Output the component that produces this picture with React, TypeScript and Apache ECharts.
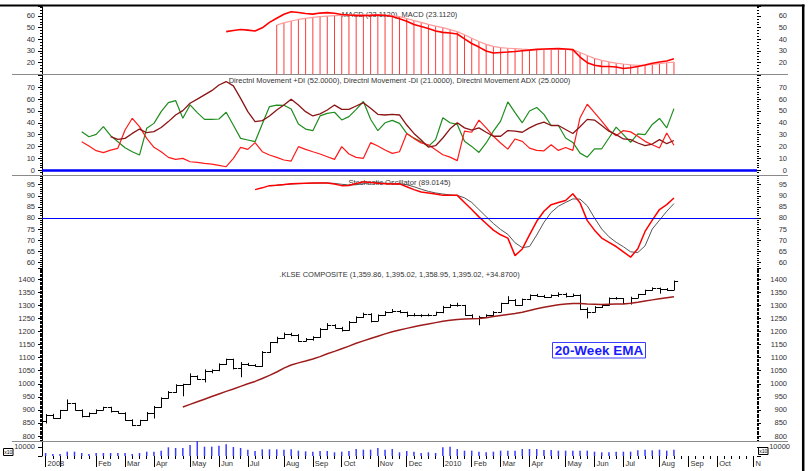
import React, { useEffect, useRef } from 'react';
import * as echarts from 'echarts';

// ---------- categories: weekly bars (Fridays) ----------
const WEEK_START_UTC = Date.UTC(2008, 11, 19);
const WEEK_COUNT = 99;
const categories: string[] = Array.from({ length: WEEK_COUNT }, (_, i) =>
  new Date(WEEK_START_UTC + i * 7 * 86400000).toISOString().slice(0, 10)
);

// month ticks (week index -> label)
const monthTickWeeks = [0, 2, 7, 11, 15, 20, 24, 28, 33, 37, 41, 46, 50, 55, 59, 63, 67, 72, 76, 80, 85, 89, 93, 98];
const monthTickLabels = ['2008', '', 'Feb', 'Mar', 'Apr', 'May', 'Jun', 'Jul', 'Aug', 'Sep', 'Oct', 'Nov', 'Dec', '2010', 'Feb', 'Mar', 'Apr', 'May', 'Jun', 'Jul', 'Aug', 'Sep', 'Oct', 'N'];

// ---------- price (weekly OHLC, weeks 0..87) ----------
const priceOpen = [
  856, 881, 868, 898, 925, 900, 875, 888, 900, 910,
  894, 890, 862, 843, 860, 890, 910, 945, 970, 996,
  998, 1030, 1020, 1047, 1051, 1076, 1094, 1060, 1077, 1073,
  1068, 1122, 1158, 1176, 1190, 1188, 1165, 1170, 1178, 1210,
  1225, 1215, 1205, 1237, 1256, 1268, 1242, 1263, 1276, 1280,
  1275, 1265, 1262, 1263, 1265, 1273, 1295, 1301, 1301, 1263,
  1252, 1256, 1263, 1276, 1308, 1321, 1301, 1324, 1340, 1337,
  1333, 1340, 1342, 1337, 1340, 1288, 1276, 1295, 1301, 1327,
  1327, 1308, 1330, 1342, 1359, 1365, 1363, 1359.86,
];
const priceHigh = [
  884, 885, 900, 940, 927, 902, 890, 902, 912, 912,
  896, 891, 864, 862, 892, 915, 948, 972, 998, 1000,
  1040, 1032, 1055, 1055, 1078, 1096, 1096, 1083, 1080, 1075,
  1125, 1160, 1180, 1196, 1195, 1190, 1175, 1182, 1213, 1232,
  1228, 1218, 1240, 1258, 1272, 1270, 1265, 1278, 1286, 1282,
  1276, 1270, 1266, 1268, 1276, 1298, 1305, 1310, 1302, 1266,
  1260, 1266, 1278, 1310, 1335, 1324, 1326, 1342, 1344, 1340,
  1342, 1350, 1348, 1345, 1342, 1292, 1297, 1303, 1330, 1332,
  1328, 1333, 1344, 1360, 1369, 1368, 1366, 1395.02,
];
const priceLow = [
  848, 866, 866, 896, 897, 871, 872, 885, 898, 890,
  886, 858, 838, 840, 858, 867, 908, 943, 965, 952,
  995, 1015, 1005, 1040, 1048, 1072, 1055, 1025, 1068, 1065,
  1065, 1118, 1155, 1172, 1182, 1160, 1162, 1165, 1176, 1206,
  1212, 1200, 1203, 1233, 1252, 1235, 1240, 1260, 1272, 1270,
  1255, 1258, 1255, 1258, 1262, 1270, 1290, 1295, 1260, 1248,
  1224, 1252, 1260, 1274, 1305, 1298, 1299, 1320, 1333, 1328,
  1330, 1332, 1330, 1333, 1282, 1250, 1273, 1290, 1299, 1322,
  1305, 1303, 1328, 1340, 1356, 1345, 1355, 1358.95,
];
const priceClose = [
  881, 868, 898, 925, 900, 875, 888, 900, 910, 894,
  890, 862, 843, 860, 890, 910, 945, 970, 996, 998,
  1030, 1020, 1047, 1051, 1076, 1094, 1060, 1077, 1073, 1068,
  1122, 1158, 1176, 1190, 1188, 1165, 1170, 1178, 1210, 1225,
  1215, 1205, 1237, 1256, 1268, 1242, 1263, 1276, 1280, 1275,
  1265, 1262, 1263, 1265, 1273, 1295, 1301, 1301, 1263, 1252,
  1256, 1263, 1276, 1308, 1321, 1301, 1324, 1340, 1337, 1333,
  1340, 1342, 1337, 1340, 1288, 1276, 1295, 1301, 1327, 1327,
  1308, 1330, 1342, 1359, 1365, 1363, 1360, 1395.02,
];

// 20-week EMA (weeks 19..87)
const emaStart = 19;
const ema20 = [
  911, 921, 931, 941, 951, 961, 971, 980, 990, 1000,
  1009, 1020, 1032, 1045, 1060, 1072, 1080, 1087, 1095, 1104,
  1115, 1124, 1134, 1144, 1155, 1164, 1173, 1182, 1191, 1199,
  1206, 1212, 1218, 1224, 1229, 1234, 1239, 1243, 1246, 1248,
  1249, 1250, 1253, 1257, 1261, 1265, 1269, 1274, 1280, 1287,
  1293, 1298, 1302, 1305, 1307, 1307, 1305, 1304, 1303, 1304,
  1305, 1305, 1308, 1312, 1317, 1321, 1325, 1329, 1333,
];

// volume (x10), weeks 0..87
const volume = [
  3300, 2200, 2200, 4750, 4750, 3300, 2200, 3300, 3300, 3300,
  3300, 3300, 2200, 3300, 4750, 4750, 5850, 9550, 8800, 8800,
  12100, 16500, 10250, 10250, 11350, 12850, 9900, 8800, 6950, 5500,
  7350, 7350, 7350, 6950, 7350, 5850, 5100, 4750, 5500, 5500,
  4050, 4750, 5500, 7700, 6950, 6950, 8800, 6950, 7700, 4050,
  5500, 4750, 3300, 4050, 3300, 9550, 10250, 7700, 5850, 5850,
  4750, 4050, 4750, 5850, 5850, 5850, 7700, 7700, 7700, 6600,
  6600, 5850, 5850, 5850, 5850, 5850, 4750, 4050, 4050, 4750,
  4750, 4750, 6200, 6950, 6200, 6950, 5850, 6950,
];

// MACD (weeks 25..87) and its signal / histogram top (weeks 32..87)
const macdStart = 25;
const macdLine = [
  46.5, 47.5, 48.3, 47.8, 47.0, 49.8, 54.5, 58.0, 61.5, 63.7,
  63.0, 62.2, 61.6, 62.5, 62.9, 62.4, 61.3, 60.8, 60.5, 60.3,
  60.5, 60.8, 60.6, 59.5, 57.6, 55.5, 52.6, 50.9, 49.2, 47.1,
  45.9, 45.3, 44.5, 40.3, 36.3, 33.2, 29.8, 28.1, 28.5, 28.9,
  29.4, 30.1, 30.6, 31.2, 31.5, 31.8, 31.9, 31.6, 31.0, 24.6,
  19.8, 17.5, 16.6, 16.5, 16.0, 14.8, 15.4, 16.5, 17.8, 19.2,
  20.3, 21.2, 23.1,
];
const signalStart = 32;
const macdSignal = [
  52.2, 54.0, 55.7, 57.0, 58.0, 58.8, 59.4, 59.9, 60.3, 60.6,
  60.8, 60.9, 60.9, 60.8, 60.7, 60.6, 60.3, 59.4, 57.8, 56.0,
  54.5, 52.8, 51.3, 49.9, 48.2, 46.5, 43.8, 40.8, 38.0, 35.5,
  33.8, 32.8, 32.2, 31.8, 31.4, 31.1, 31.0, 31.1, 31.3, 31.3,
  31.2, 31.0, 28.5, 26.0, 23.5, 21.8, 20.5, 19.4, 18.6, 17.9,
  17.4, 17.6, 18.3, 19.0, 19.7, 20.3,
];

// Directional movement (+DI, -DI from week 5, ADX from week 9)
const diStart = 5;
const plusDI = [
  32.5, 28.2, 30.2, 36.7, 29.1, 24.0, 18.9, 15.5, 12.7, 35.3,
  39.5, 49.4, 57.1, 58.8, 43.8, 55.1, 48.6, 42.9, 42.9, 43.2,
  48.9, 37.9, 26.8, 25.4, 24.0, 39.0, 53.7, 55.0, 54.8, 51.7,
  39.0, 34.7, 33.3, 45.8, 48.0, 48.9, 42.4, 45.2, 51.4, 58.0,
  43.0, 33.3, 40.0, 42.0, 39.5, 31.0, 27.0, 24.0, 20.0, 25.7,
  44.3, 40.0, 38.6, 24.3, 20.0, 14.9, 22.9, 32.9, 41.4, 57.7,
  48.6, 40.0, 50.0, 52.9, 47.1, 37.7, 37.7, 27.1, 23.4, 14.3,
  10.9, 18.0, 18.0, 27.1, 36.3, 30.0, 23.4, 30.6, 30.0, 38.6,
  43.7, 35.7, 52.0,
];
const minusDI = [
  24.0, 20.3, 16.4, 14.7, 16.9, 18.4, 33.9, 43.8, 36.7, 26.8,
  19.2, 15.5, 10.7, 9.0, 9.9, 7.0, 6.5, 5.6, 5.0, 4.0,
  2.8, 9.9, 19.2, 17.5, 23.2, 15.5, 12.7, 10.7, 8.5, 7.6,
  19.8, 17.5, 15.5, 13.6, 11.3, 9.0, 19.8, 13.6, 10.7, 9.9,
  23.2, 20.3, 17.0, 14.1, 15.5, 31.0, 26.8, 23.0, 21.4, 17.1,
  12.9, 10.9, 8.0, 32.9, 32.0, 42.3, 35.7, 28.6, 22.9, 17.7,
  26.3, 24.3, 18.6, 16.6, 16.3, 21.4, 16.6, 19.1, 16.6, 44.3,
  55.7, 48.6, 41.4, 33.7, 29.1, 33.4, 32.3, 28.6, 24.3, 21.4,
  18.6, 31.4, 21.0,
];
const adxStart = 9;
const adx = [
  28.2, 26.0, 26.8, 31.0, 34.7, 31.6, 32.5, 36.0, 41.0, 46.6,
  50.3, 56.5, 60.0, 63.6, 67.2, 72.0, 74.9, 71.2, 60.7, 49.4,
  41.0, 41.8, 45.8, 50.8, 55.0, 60.0, 55.0, 49.4, 45.8, 47.5,
  50.8, 55.0, 51.4, 51.4, 54.2, 57.0, 52.3, 47.2, 46.6, 47.2,
  46.6, 38.1, 31.0, 25.4, 19.4, 20.6, 27.1, 34.9, 40.0, 35.7,
  33.7, 35.7, 32.0, 28.6, 28.6, 33.4, 32.9, 32.0, 35.7, 38.6,
  40.6, 37.7, 37.7, 34.3, 30.9, 36.6, 42.9, 42.3, 37.7, 32.9,
  30.0, 26.3, 25.7, 22.9, 20.6, 22.0, 25.7, 22.3, 25.0,
];

// Stochastic oscillator (%K from week 29, %D from week 31)
const stochKStart = 29;
const stochK = [
  92.8, 93.6, 94.6, 94.8, 95.1, 95.5, 95.6, 95.7, 95.8, 95.8,
  95.8, 95.3, 94.6, 94.7, 95.6, 96.3, 96.0, 95.7, 95.5, 95.3,
  95.4, 94.1, 92.8, 91.7, 91.3, 90.8, 90.2, 90.2, 90.2, 87.0,
  83.8, 80.5, 77.5, 74.5, 72.4, 70.9, 63.0, 66.0, 72.4, 78.5,
  83.0, 86.0, 87.0, 87.9, 90.9, 86.8, 78.8, 74.5, 70.9, 69.0,
  67.1, 64.7, 62.3, 66.1, 73.9, 79.0, 83.8, 86.0, 89.0,
];
const stochDStart = 31;
const stochD = [
  94.5, 94.8, 95.0, 95.3, 95.5, 95.6, 95.7, 95.8, 95.8, 95.6,
  95.2, 94.9, 95.0, 95.5, 96.0, 96.0, 95.7, 95.5, 95.4, 95.0,
  94.1, 93.0, 92.0, 91.3, 90.8, 90.4, 90.2, 89.1, 87.0, 83.8,
  80.6, 77.5, 74.8, 72.6, 68.8, 66.6, 67.1, 72.3, 78.0, 82.5,
  85.3, 87.0, 88.6, 88.5, 85.5, 80.0, 75.0, 71.5, 69.0, 67.0,
  64.7, 64.4, 67.4, 75.0, 79.0, 83.0, 86.5,
];

// ---------- texts ----------
const macdTitle = 'MACD (23.1120), MACD (23.1120)';
const dmiTitle = 'Directnl Movement +DI (52.0000), Directnl Movement -DI (21.0000), Directnl Movement ADX (25.0000)';
const stochTitle = 'Stochastic Oscillator (89.0145)';
const priceTitle = '.KLSE COMPOSITE (1,359.86, 1,395.02, 1,358.95, 1,395.02, +34.8700)';
const emaNote = '20-Week EMA';
const volScaleNote = 'x10';

const FONT = "'Liberation Sans', Arial, Helvetica, sans-serif";
const GRID_LEFT = 42;
const GRID_WIDTH = 715;

const pad = (start: number, arr: number[]) => (Array(start).fill(null) as (number | null)[]).concat(arr);

function makeY(
  grid: number,
  min: number,
  max: number,
  step: number,
  minorSplit: number,
  show: (v: number) => boolean,
  side: 'left' | 'right',
  fixedInterval = false,
  rightMargin = 30
) {
  const near = (v: number) => Math.abs(v - Math.round(v / step) * step) < 1e-6;
  return {
    type: 'value',
    gridIndex: grid,
    position: side,
    min,
    max,
    ...(fixedInterval
      ? { interval: step }
      : { minInterval: step, maxInterval: step, splitNumber: Math.max(1, Math.round((max - min) / step)) }),
    splitLine: { show: false },
    axisLine: { show: side === 'left', onZero: false, lineStyle: { color: '#000', width: 1 } },
    axisTick: { show: true, length: 4, lineStyle: { color: '#000', width: 1 } },
    minorTick: { show: minorSplit > 1, splitNumber: minorSplit, length: 2, lineStyle: { color: '#000', width: 1 } },
    axisLabel: {
      show: true,
      fontSize: 7.5,
      color: '#333',
      fontFamily: FONT,
      margin: side === 'left' ? 7 : rightMargin,
      align: 'right',
      formatter: (v: number) => (near(v) && show(v) ? String(Math.round(v)) : ''),
    },
  };
}

function buildOption() {
  const tickSet = new Set(monthTickWeeks);
  const labelMap = new Map<number, string>();
  monthTickWeeks.forEach((w, i) => {
    if (monthTickLabels[i]) labelMap.set(w, monthTickLabels[i]);
  });

  const grids = [
    { top: 6.7, height: 67.3 },
    { top: 74, height: 101 },
    { top: 175, height: 93 },
    { top: 268, height: 173 },
    { top: 441, height: 15 },
  ].map((g) => ({ left: GRID_LEFT, width: GRID_WIDTH, top: g.top, height: g.height, containLabel: false, outerBoundsMode: 'none', show: false }));

  const hiddenX = (g: number) => ({ type: 'category', gridIndex: g, data: categories, boundaryGap: true, show: false });

  const xAxis = [
    hiddenX(0),
    hiddenX(1),
    hiddenX(2),
    hiddenX(3),
    {
      type: 'category',
      gridIndex: 4,
      data: categories,
      boundaryGap: true,
      position: 'bottom',
      axisLine: { show: false, onZero: false },
      axisTick: { show: true, alignWithLabel: true, interval: 0, length: 3, lineStyle: { color: '#000', width: 1 } },
      axisLabel: { show: false },
    },
    {
      type: 'category',
      gridIndex: 4,
      data: categories,
      boundaryGap: true,
      position: 'bottom',
      axisLine: { show: false, onZero: false },
      axisTick: {
        show: true,
        alignWithLabel: true,
        interval: (i: number) => tickSet.has(i),
        length: 11,
        lineStyle: { color: '#000', width: 1 },
      },
      axisLabel: {
        show: true,
        interval: (i: number) => labelMap.has(i),
        formatter: (_v: string, i: number) => labelMap.get(i) ?? '',
        align: 'left',
        fontSize: 7.5,
        color: '#333',
        fontFamily: FONT,
        margin: 3,
        padding: [0, 0, 0, 2],
      },
    },
  ];

  const macdShow = (v: number) => v >= 20 && v <= 60;
  const dmiShow = (v: number) => v >= 0 && v <= 70;
  const stochShow = (v: number) => v >= 60 && v <= 95;
  const priceShow = (v: number) => v >= 800 && v <= 1400;
  const volShow = (v: number) => v === 10000;

  const yAxis = [
    makeY(0, 10, 68, 10, 4, macdShow, 'left', true),
    makeY(0, 10, 68, 10, 4, macdShow, 'right', true),
    makeY(1, -4.2, 81.3, 10, 5, dmiShow, 'left'),
    makeY(1, -4.2, 81.3, 10, 5, dmiShow, 'right'),
    makeY(2, 57.4, 99.4, 5, 5, stochShow, 'left'),
    makeY(2, 57.4, 99.4, 5, 5, stochShow, 'right'),
    makeY(3, 781, 1443, 50, 10, priceShow, 'left'),
    makeY(3, 781, 1443, 50, 10, priceShow, 'right'),
    makeY(4, 0, 16500, 10000, 1, volShow, 'left', true),
    makeY(4, 0, 16500, 10000, 1, volShow, 'right', true, 33),
  ];

  const ohlcData = priceOpen.map((o, i) => [i, o, priceHigh[i], priceLow[i], priceClose[i]]);

  const series: any[] = [
    // MACD panel
    {
      type: 'bar',
      xAxisIndex: 0,
      yAxisIndex: 0,
      data: pad(signalStart, macdSignal),
      barWidth: 1,
      itemStyle: { color: '#ff3c3c' },
      silent: true,
    },
    {
      type: 'line',
      xAxisIndex: 0,
      yAxisIndex: 0,
      data: pad(signalStart, macdSignal),
      showSymbol: false,
      lineStyle: { color: '#ff9a9a', width: 1.2 },
      silent: true,
    },
    {
      type: 'line',
      xAxisIndex: 0,
      yAxisIndex: 0,
      data: pad(macdStart, macdLine),
      showSymbol: false,
      lineStyle: { color: '#ff0000', width: 1.6 },
      silent: true,
    },
    // DMI panel
    {
      type: 'line',
      xAxisIndex: 1,
      yAxisIndex: 2,
      data: pad(diStart, plusDI),
      showSymbol: false,
      lineStyle: { color: '#1e8c1e', width: 1.2 },
      silent: true,
      markLine: {
        silent: true,
        symbol: ['none', 'none'],
        label: { show: false },
        lineStyle: { color: '#0000ff', width: 2.5, type: 'solid' },
        data: [{ yAxis: 0 }],
      },
    },
    {
      type: 'line',
      xAxisIndex: 1,
      yAxisIndex: 2,
      data: pad(diStart, minusDI),
      showSymbol: false,
      lineStyle: { color: '#ff1a1a', width: 1.2 },
      silent: true,
    },
    {
      type: 'line',
      xAxisIndex: 1,
      yAxisIndex: 2,
      data: pad(adxStart, adx),
      showSymbol: false,
      lineStyle: { color: '#8b1414', width: 1.3 },
      silent: true,
    },
    // Stochastic panel
    {
      type: 'line',
      xAxisIndex: 2,
      yAxisIndex: 4,
      data: pad(stochDStart, stochD),
      showSymbol: false,
      lineStyle: { color: '#555555', width: 1 },
      silent: true,
      markLine: {
        silent: true,
        symbol: ['none', 'none'],
        label: { show: false },
        lineStyle: { color: '#0000ff', width: 1.2, type: 'solid' },
        data: [{ yAxis: 80 }],
      },
    },
    {
      type: 'line',
      xAxisIndex: 2,
      yAxisIndex: 4,
      data: pad(stochKStart, stochK),
      showSymbol: false,
      lineStyle: { color: '#ff0000', width: 1.5 },
      silent: true,
    },
    // Price panel
    {
      type: 'line',
      xAxisIndex: 3,
      yAxisIndex: 6,
      data: pad(emaStart, ema20),
      showSymbol: false,
      lineStyle: { color: '#9e1c1c', width: 1.5 },
      silent: true,
    },
    {
      type: 'custom',
      xAxisIndex: 3,
      yAxisIndex: 6,
      data: ohlcData,
      encode: { x: 0, y: [1, 2, 3, 4] },
      silent: true,
      renderItem: (_params: any, api: any) => {
        const i = api.value(0);
        const pO = api.coord([i, api.value(1)]);
        const pH = api.coord([i, api.value(2)]);
        const pL = api.coord([i, api.value(3)]);
        const pC = api.coord([i, api.value(4)]);
        const x = Math.round(pO[0]) + 0.5;
        const w = api.size([1, 0])[0] * 0.5;
        const yO = Math.round(pO[1]) + 0.5;
        const yC = Math.round(pC[1]) + 0.5;
        const style = { stroke: '#000', lineWidth: 1 };
        return {
          type: 'group',
          children: [
            { type: 'line', shape: { x1: x, y1: pH[1], x2: x, y2: pL[1] }, style },
            { type: 'line', shape: { x1: x - w, y1: yO, x2: x, y2: yO }, style },
            { type: 'line', shape: { x1: x, y1: yC, x2: x + w, y2: yC }, style },
          ],
        };
      },
    },
    // Volume panel
    {
      type: 'bar',
      xAxisIndex: 4,
      yAxisIndex: 8,
      data: volume,
      barWidth: 1.5,
      itemStyle: { color: '#3b3bff' },
      silent: true,
    },
  ];

  const titleStyle = (text: string, y: number) => ({
    type: 'text',
    z: 1,
    x: GRID_LEFT + GRID_WIDTH / 2,
    y,
    style: {
      text,
      fill: '#333',
      fontSize: 7.5,
      fontFamily: FONT,
      textAlign: 'center',
      textVerticalAlign: 'middle',
    },
  });

  const sep = (y: number) => ({
    type: 'line',
    z: 1,
    shape: { x1: 12, y1: y, x2: 788, y2: y },
    style: { stroke: '#8a8a8a', lineWidth: 1 },
  });

  const x10Box = (x: number, y: number) => ({
    type: 'group',
    z: 20,
    children: [
      { type: 'rect', z: 20, shape: { x, y, width: 9.5, height: 7 }, style: { fill: '#fff', stroke: '#000', lineWidth: 1 } },
      {
        type: 'text',
        z: 21,
        x: x + 4.75,
        y: y + 3.7,
        style: { text: volScaleNote, fill: '#000', fontSize: 5, fontFamily: FONT, textAlign: 'center', textVerticalAlign: 'middle' },
      },
    ],
  });

  const graphic = [
    sep(74.5),
    sep(175.5),
    sep(441.5),
    titleStyle(macdTitle, 14),
    titleStyle(dmiTitle, 80.7),
    titleStyle(stochTitle, 182.3),
    titleStyle(priceTitle, 274),
    {
      type: 'group',
      z: 20,
      children: [
        {
          type: 'rect',
          z: 20,
          shape: { x: 552.5, y: 342.5, width: 93, height: 15.5 },
          style: { fill: '#fff', stroke: '#3c3cff', lineWidth: 1 },
        },
        {
          type: 'text',
          z: 21,
          x: 599,
          y: 350.6,
          style: {
            text: emaNote,
            fill: '#1a1aff',
            fontSize: 13.5,
            fontWeight: 'bold',
            fontFamily: FONT,
            textAlign: 'center',
            textVerticalAlign: 'middle',
          },
        },
      ],
    },
    x10Box(3.5, 448.5),
    x10Box(758.5, 447.5),
    { type: 'line', z: 30, shape: { x1: 0, y1: 5.5, x2: 804.5, y2: 5.5 }, style: { stroke: '#000', lineWidth: 2 } },
    { type: 'line', z: 30, shape: { x1: 803.2, y1: 4.5, x2: 803.2, y2: 471 }, style: { stroke: '#000', lineWidth: 2.5 } },
  ];

  return {
    animation: false,
    backgroundColor: '#ffffff',
    grid: grids,
    xAxis,
    yAxis,
    series,
    graphic,
  };
}

export default function App() {
  const ref = useRef<HTMLDivElement | null>(null);
  useEffect(() => {
    if (!ref.current) return;
    const chart = echarts.init(ref.current, null, { renderer: 'svg' });
    chart.setOption(buildOption() as any);
    return () => chart.dispose();
  }, []);
  return (
    <div
      ref={ref}
      style={{ position: 'fixed', left: 0, top: 0, width: 811, height: 471, background: '#fff' }}
    />
  );
}
